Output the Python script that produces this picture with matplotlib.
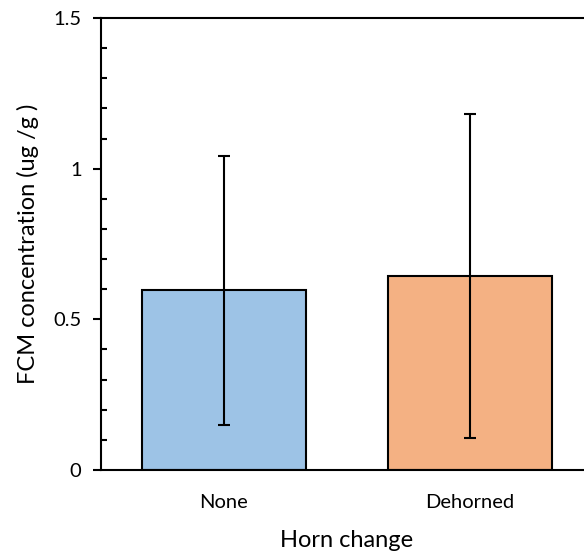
import matplotlib.pyplot as plt
import numpy as np
from matplotlib.ticker import MultipleLocator

# mean FCM concentration per horn change group, with standard deviation
groups = ['None', 'Dehorned']
means = [0.597, 0.643]
sds = [0.446, 0.538]
colors = ['#9DC3E6', '#F4B183']

plt.rcParams['font.family'] = ['Lato', 'DejaVu Sans']

fig = plt.figure(figsize=(5.84, 5.54), dpi=100)
ax = fig.add_axes([0.173, 0.1516, 0.842, 0.8159])

x = np.arange(len(groups))
ax.bar(x, means, width=0.667, color=colors, edgecolor='black', linewidth=1.5, zorder=2)
ax.errorbar(x, means, yerr=sds, fmt='none', ecolor='black', elinewidth=1.5,
            capsize=4.5, capthick=1.5, zorder=3)

ax.set_xlim(-0.5, 1.5)
ax.set_ylim(0, 1.5)
ax.set_xticks(x)
ax.set_xticklabels(groups, fontsize=14.5)
ax.set_yticks([0, 0.5, 1, 1.5])
ax.set_yticklabels(['0', '0.5', '1', '1.5'], fontsize=14.5)
ax.yaxis.set_minor_locator(MultipleLocator(0.1))
ax.tick_params(axis='y', which='major', direction='out', length=6, width=1.5, pad=8)
ax.tick_params(axis='y', which='minor', direction='in', length=4, width=1.5)
ax.tick_params(axis='x', length=0, pad=17)

for side in ['left', 'bottom', 'top']:
    ax.spines[side].set_linewidth(1.5)
ax.spines['right'].set_visible(False)

ax.set_xlabel('Horn change', fontsize=17, labelpad=14)
ax.set_ylabel('FCM concentration (ug /g )', fontsize=17, labelpad=10)

fig.savefig('out.png', dpi=100)
